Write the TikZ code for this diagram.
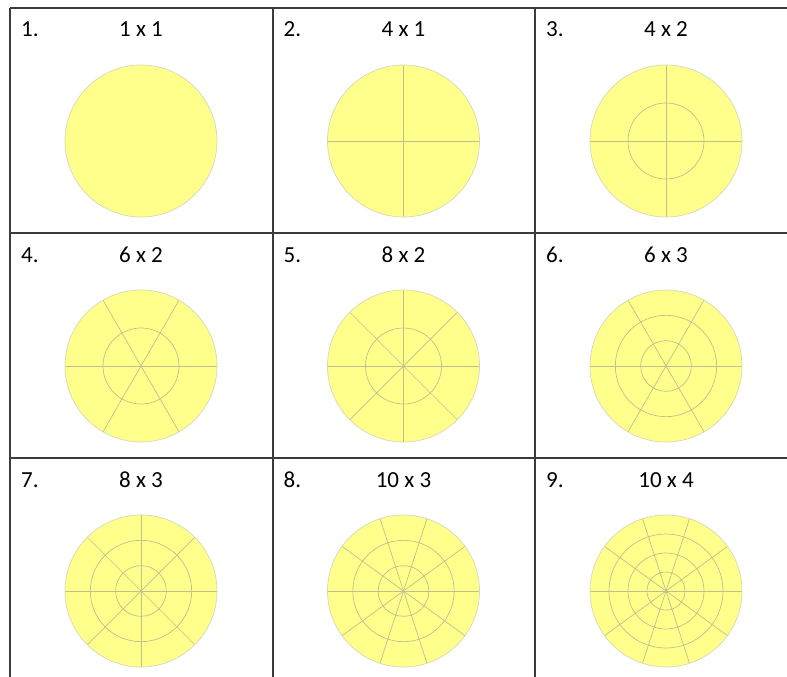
\documentclass[tikz,border=0pt]{standalone}
\usepackage{fontspec}
\setmainfont{Carlito}
\definecolor{diskfill}{RGB}{255,255,140}
\definecolor{diskedge}{RGB}{215,215,185}
\definecolor{diskline}{RGB}{192,192,140}
\definecolor{framegray}{RGB}{60,60,60}

\begin{document}
\begin{tikzpicture}[
  x=1pt, y=-1pt,
  disk/.style={fill=diskfill},
  rim/.style={draw=diskedge, line width=0.7pt},
  divider/.style={draw=diskline, line width=0.7pt},
  frame/.style={draw=framegray, line width=1.4pt},
  numlabel/.style={anchor=base west, inner sep=0pt,
    font=\fontsize{23}{26}\selectfont},
  sizelabel/.style={anchor=base, inner sep=0pt,
    font=\fontsize{23}{26}\selectfont}
]
\useasboundingbox (0,0) rectangle (787,677);

% one cell per layout: number/column/row/spokes/rings
\foreach \n/\col/\row/\spokes/\rings in
  {1/0/0/1/1, 2/1/0/4/1, 3/2/0/4/2,
   4/0/1/6/2, 5/1/1/8/2, 6/2/1/6/3,
   7/0/2/8/3, 8/1/2/10/3, 9/2/2/10/4}{
  \pgfmathsetmacro{\cx}{141+262.5*\col}
  \pgfmathsetmacro{\cy}{141+225*\row}
  \coordinate (c\n) at (\cx,\cy);
  \fill[disk] (c\n) circle[radius=76pt];
  \ifnum\spokes>1
    \foreach \i in {1,...,\spokes}
      \draw[divider] (c\n) -- ++({360/\spokes*\i}:76pt);
  \fi
  \ifnum\rings>1
    \pgfmathtruncatemacro{\last}{\rings-1}
    \foreach \k in {1,...,\last}
      \draw[divider] (c\n) circle[radius={76pt*\k/\rings}];
  \fi
  \draw[rim] (c\n) circle[radius=76pt];
  \node[numlabel] (num\n) at (\cx-120,\cy-104) {\n.};
  \node[sizelabel] (size\n) at (\cx,\cy-104) {\spokes{} x \rings};
}

% table rules
\draw[frame] (10,8) -- (787,8);
\draw[frame] (10,233) -- (787,233);
\draw[frame] (10,458) -- (787,458);
\draw[frame] (10,8) -- (10,677);
\draw[frame] (273,8) -- (273,677);
\draw[frame] (535,8) -- (535,677);
\end{tikzpicture}
\end{document}
